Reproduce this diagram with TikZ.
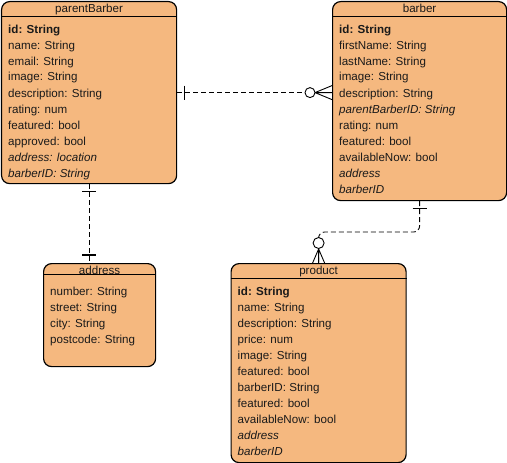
\documentclass[tikz,border=0pt]{standalone}
\usepackage{fontspec}
\setmainfont{Liberation Sans}
\usepackage{xcolor}
\usetikzlibrary{positioning,calc}
\definecolor{erOrange}{HTML}{F5B87F}
\definecolor{erText}{HTML}{1A1A1A}
\newcommand{\erfont}{\fontsize{11.6}{14}\selectfont}
\tikzset{
  entity/.style={draw=black,fill=erOrange,rounded corners=8pt,line width=1.2pt,
    anchor=north west,inner sep=0pt},
  title/.style={font=\erfont,text=erText,anchor=base,inner sep=0pt},
  field/.style={font=\erfont,text=erText,anchor=base west,inner sep=0pt},
  headline/.style={line width=1pt},
  relation/.style={line width=0.9pt,dash pattern=on 5pt off 3pt},
  onebar/.style={line width=1.4pt},
  foot/.style={line width=0.9pt},
  ring/.style={line width=0.9pt,fill=white}
}

\begin{document}
\begin{tikzpicture}[x=1pt,y=-1pt]
  \useasboundingbox (0,0) rectangle (507,463);

  % tables
  \node[entity, minimum width=175pt, minimum height=182pt] (parentBarber) at (1,1) {};
  \node[title] (parentBarber-title) at ($(parentBarber.north)+(0,11.5)$) {parentBarber};
  \draw[headline] ($(parentBarber.north west)+(0,15)$) -- ($(parentBarber.north east)+(0,15)$);
  \foreach \f [count=\i from 0] in {\textbf{id: String}, name: String, email: String,
      image: String, description: String, rating: num, featured: bool, approved: bool,
      \textit{address: location}, \textit{barberID: String}}
    \node[field] (parentBarber-\i) at ($(parentBarber.north west)+(7,32+16*\i)$) {\f};

  \node[entity, minimum width=174pt, minimum height=199pt] (barber) at (332,1) {};
  \node[title] (barber-title) at ($(barber.north)+(0,11.5)$) {barber};
  \draw[headline] ($(barber.north west)+(0,15)$) -- ($(barber.north east)+(0,15)$);
  \foreach \f [count=\i from 0] in {\textbf{id: String}, firstName: String, lastName: String,
      image: String, description: String, \textit{parentBarberID: String}, rating: num,
      featured: bool, availableNow: bool, \textit{address}, \textit{barberID}}
    \node[field] (barber-\i) at ($(barber.north west)+(7,32+16*\i)$) {\f};

  \node[entity, minimum width=112pt, minimum height=103pt] (address) at (43,263) {};
  \node[title] (address-title) at ($(address.north)+(0,11)$) {address};
  \draw[headline] ($(address.north west)+(0,11)$) -- ($(address.north east)+(0,11)$);
  \foreach \f [count=\i from 0] in {number: String, street: String, city: String, postcode: String}
    \node[field] (address-\i) at ($(address.north west)+(7,32.5+16*\i)$) {\f};

  \node[entity, minimum width=175pt, minimum height=199pt] (product) at (230.5,263) {};
  \node[title] (product-title) at ($(product.north)+(0,11)$) {product};
  \draw[headline] ($(product.north west)+(0,15)$) -- ($(product.north east)+(0,15)$);
  \foreach \f [count=\i from 0] in {\textbf{id: String}, name: String, description: String,
      price: num, image: String, featured: bool, barberID: String, featured: bool,
      availableNow: bool, \textit{address}, \textit{barberID}}
    \node[field] (product-\i) at ($(product.north west)+(7,32.5+16*\i)$) {\f};

  % parentBarber -> barber (one to zero-or-many)
  \coordinate (pbEnd) at (parentBarber.east -| barber.west);
  \draw[relation] (parentBarber.east) -- (pbEnd);
  \draw[onebar] ($(parentBarber.east)+(7,-7)$) -- ($(parentBarber.east)+(7,7)$);
  \draw[foot] ($(pbEnd)+(-17,0)$) -- ($(pbEnd)+(0,-7)$)
              ($(pbEnd)+(-17,0)$) -- (pbEnd)
              ($(pbEnd)+(-17,0)$) -- ($(pbEnd)+(0,7)$);
  \draw[ring] ($(pbEnd)+(-22,0)$) circle (5pt);

  % parentBarber -> address (one to one)
  \coordinate (adEnd) at (parentBarber.south |- address.north);
  \draw[relation] (parentBarber.south) -- (adEnd);
  \draw[onebar] ($(parentBarber.south)+(-7,7)$) -- ($(parentBarber.south)+(7,7)$);
  \draw[onebar] ($(adEnd)+(-7,-8)$) -- ($(adEnd)+(7,-8)$);

  % barber -> product (one to zero-or-many)
  \draw[relation, rounded corners=6pt] (barber.south) |- ($(product.north)+(0,-31)$) -- (product.north);
  \draw[onebar] ($(barber.south)+(-7,7)$) -- ($(barber.south)+(7,7)$);
  \draw[foot] ($(product.north)+(0,-14)$) -- ($(product.north)+(-6,0)$)
              ($(product.north)+(0,-14)$) -- (product.north)
              ($(product.north)+(0,-14)$) -- ($(product.north)+(6,0)$);
  \draw[ring] ($(product.north)+(0,-20)$) circle (5.5pt);
\end{tikzpicture}
\end{document}
